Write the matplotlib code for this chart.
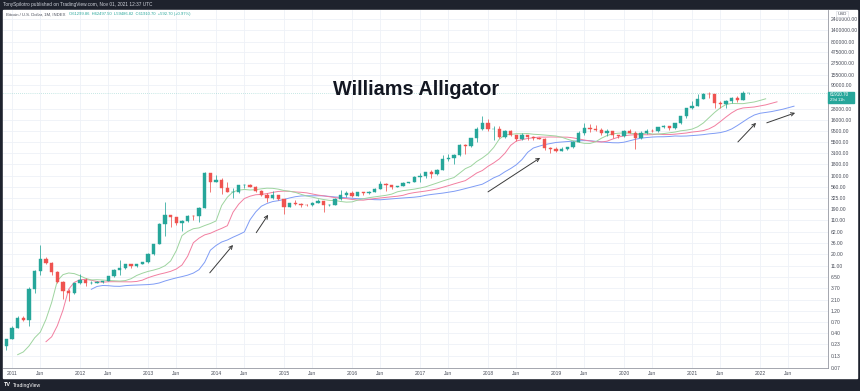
import numpy as np
import matplotlib
matplotlib.use("Agg")
import matplotlib.pyplot as plt
from matplotlib.patches import Rectangle

plt.rcParams['font.family'] = ['Liberation Sans', 'DejaVu Sans']

# monthly BTCUSD (INDEX), Jul 2010 .. Nov 2021, one row per year
opens = [
    0.05, 0.07, 0.06, 0.06, 0.19, 0.21,
    0.30, 0.52, 0.86, 0.78, 3.5, 8.7, 16.1, 13.3, 8.2, 5.1, 3.2, 3.0,
    4.7, 5.5, 4.9, 4.9, 5.0, 5.2, 6.7, 9.3, 10.1, 12.4, 11.2, 12.6,
    13.5, 20.4, 33.4, 93, 139, 129, 97, 106, 135, 133, 204, 1130,
    754, 800, 550, 445, 445, 630, 640, 585, 480, 387, 338, 378,
    320, 217, 254, 244, 236, 230, 263, 284, 230, 236, 314, 378,
    430, 368, 437, 416, 448, 531, 673, 624, 575, 609, 698, 742,
    963, 970, 1190, 1079, 1348, 2300, 2480, 2875, 4703, 4338, 6468, 10233,
    14156, 10221, 10397, 6973, 9240, 7494, 6404, 7730, 7025, 6625, 6317, 4017,
    3742, 3457, 3854, 4105, 5350, 8574, 10817, 10085, 9630, 8293, 9199, 7569,
    7193, 9350, 8544, 6424, 8629, 9455, 9138, 11323, 11680, 10784, 13804, 19700,
    28990, 33114, 45138, 58919, 57750, 37332, 35041, 41626, 47166, 43790, 61299.86,
]
highs = [
    0.10, 0.07, 0.07, 0.20, 0.50, 0.30,
    0.56, 0.95, 0.95, 4.0, 9.0, 32, 17.5, 13.9, 8.6, 5.3, 3.5, 4.8,
    7.4, 6.3, 5.4, 5.3, 5.2, 6.7, 9.5, 15.4, 12.5, 12.7, 12.6, 13.8,
    21, 34, 94, 266, 140, 130, 110, 140, 145, 215, 1240, 1165,
    1020, 880, 720, 545, 640, 680, 660, 600, 495, 420, 460, 385,
    320, 265, 300, 261, 248, 268, 317, 285, 245, 334, 502, 466,
    463, 448, 440, 469, 549, 780, 705, 628, 613, 720, 753, 980,
    1160, 1210, 1350, 1395, 2770, 2995, 2930, 4765, 5000, 6500, 11400, 19700,
    17250, 11800, 11700, 9800, 10000, 7790, 8500, 7770, 7420, 6970, 6600, 4240,
    4100, 4200, 4140, 5640, 9100, 13880, 13200, 12330, 10950, 10540, 9520, 7750,
    9580, 10500, 9190, 9470, 10080, 10390, 11450, 12470, 12050, 14100, 19900, 29300,
    41950, 58350, 61780, 64900, 59600, 41330, 42600, 50500, 52900, 67000, 62497.50,
]
lows = [
    0.05, 0.06, 0.06, 0.06, 0.19, 0.17,
    0.29, 0.52, 0.72, 0.56, 3.0, 7.2, 12.5, 7.0, 4.7, 2.2, 2.0, 2.8,
    4.5, 4.2, 4.5, 4.7, 4.9, 5.2, 6.5, 7.1, 9.8, 10.4, 10.5, 12.4,
    13.2, 19.6, 33, 50, 79, 87, 65, 101, 112, 98, 200, 450,
    735, 400, 440, 340, 425, 545, 560, 440, 360, 275, 320, 300,
    152, 212, 236, 211, 228, 220, 253, 162, 225, 236, 296, 347,
    350, 365, 393, 411, 440, 511, 470, 513, 570, 596, 685, 738,
    752, 917, 889, 1058, 1348, 2130, 1830, 2690, 2970, 4100, 5500, 10000,
    9250, 5950, 6500, 6450, 7100, 5780, 6070, 5880, 6100, 6200, 3550, 3160,
    3350, 3390, 3690, 4080, 5330, 7450, 9050, 9350, 7700, 7300, 6515, 6430,
    6850, 8450, 3850, 6150, 8100, 8900, 8970, 10950, 9870, 10420, 13200, 17600,
    28130, 32300, 44960, 47000, 30000, 28800, 29300, 37400, 39600, 43300, 59486.82,
]
closes = [
    0.07, 0.06, 0.06, 0.19, 0.21, 0.30,
    0.52, 0.86, 0.78, 3.5, 8.7, 16.1, 13.3, 8.2, 5.1, 3.2, 3.0, 4.7,
    5.5, 4.9, 4.9, 5.0, 5.2, 6.7, 9.3, 10.1, 12.4, 11.2, 12.6, 13.5,
    20.4, 33.4, 93, 139, 129, 97, 106, 135, 133, 204, 1130, 754,
    800, 550, 445, 445, 630, 640, 585, 480, 387, 338, 378, 320,
    217, 254, 244, 236, 230, 263, 284, 230, 236, 314, 378, 430,
    368, 437, 416, 448, 531, 673, 624, 575, 609, 698, 742, 963,
    970, 1190, 1079, 1348, 2300, 2480, 2875, 4703, 4338, 6468, 10233, 14156,
    10221, 10397, 6973, 9240, 7494, 6404, 7730, 7025, 6625, 6317, 4017, 3742,
    3457, 3854, 4105, 5350, 8574, 10817, 10085, 9630, 8293, 9199, 7569, 7193,
    9350, 8544, 6424, 8629, 9455, 9138, 11323, 11680, 10784, 13804, 19700, 28990,
    33114, 45138, 58919, 57750, 37332, 35041, 41626, 47166, 43790, 61318, 61910.70,
]

price_ticks = [0.07, 0.13, 0.23, 0.40, 0.70, 1.20, 2.10, 3.70, 6.50, 11.0, 20.0,
               36.0, 62.0, 110.0, 190.0, 325.0, 560.0, 1000.0, 1800.0, 3100.0,
               5500.0, 9500.0, 16000.0, 28000.0, 90000.0, 155000.0, 275000.0,
               475000.0, 800000.0, 1400000.0, 2400000.0]
years = list(range(2011, 2023))
# arrows drawn on the chart: (month index, price) tail -> head
arrows = [((40.9, 8.0), (45.0, 32.0)),
          ((49.1, 59.0), (51.2, 144.0)),
          ((90.0, 450.0), (99.2, 2450.0)),
          ((134.1, 5400.0), (137.3, 14000.0)),
          ((139.2, 14000.0), (144.2, 23000.0))]

UP, DOWN = '#26a69a', '#ef5350'
W, H = 860, 391

fig = plt.figure(figsize=(8.6, 3.91), dpi=100, facecolor='#1e222d')
# white chart panel
fig.patches.append(Rectangle((3 / W, 1 - 378 / H), 854 / W, 368 / H,
                             transform=fig.transFigure, color='white', zorder=-5))
ax = fig.add_axes([3 / W, 1 - 368 / H, 825 / W, 358 / H])
ax.set_facecolor('white')

o = np.array(opens)
h = np.array(highs)
l = np.array(lows)
c = np.array(closes)
x = np.arange(len(c))
col = np.where(c >= o, UP, DOWN)

ax.vlines(x, l, h, colors=col, linewidth=0.55, zorder=3)
ax.bar(x, np.abs(c - o), bottom=np.minimum(o, c), width=0.64,
       color=col, edgecolor=col, linewidth=0.3, zorder=4)


def smma(src, n):
    out = np.full(len(src), np.nan)
    for i in range(n - 1, len(src)):
        if i == n - 1:
            out[i] = src[:n].mean()
        else:
            out[i] = (out[i - 1] * (n - 1) + src[i]) / n
    return out


hl2 = (h + l) / 2
ax.plot(x + 8, smma(hl2, 13), color='#7f9cf5', lw=0.7, zorder=2)   # jaw
ax.plot(x + 5, smma(hl2, 8), color='#f27ea0', lw=0.7, zorder=2)    # teeth
ax.plot(x + 3, smma(hl2, 5), color='#9ed49f', lw=0.7, zorder=2)    # lips

# last price line
ax.axhline(c[-1], color=UP, lw=0.5, ls=(0, (1, 2)), alpha=0.5, zorder=1)

for (x0, y0), (x1, y1) in arrows:
    ax.annotate('', xy=(x1, y1), xytext=(x0, y0),
                arrowprops=dict(arrowstyle='->', color='#3a3a3a', lw=0.7,
                                mutation_scale=6, shrinkA=0, shrinkB=0), zorder=5)

ax.set_yscale('log')
ax.set_ylim(0.0713, 3.85e6)
ax.set_xlim(4.41, 150.0)

ax.yaxis.tick_right()
ax.set_yticks(price_ticks)
ax.set_yticklabels(['%.2f' % v for v in price_ticks])
ax.yaxis.set_minor_locator(matplotlib.ticker.NullLocator())
ax.tick_params(axis='y', length=0, pad=2, labelsize=3.6, labelcolor='#4a4e5a')

xt, xl = [], []
for i, yr in enumerate(years):
    xt += [6 + 12 * i, 11 + 12 * i]
    xl += [str(yr), 'Jun']
ax.set_xticks(xt)
ax.set_xticklabels(xl)
ax.tick_params(axis='x', length=0, pad=2.5, labelsize=3.6, labelcolor='#4a4e5a')

ax.grid(True, color='#eef1f7', lw=0.6, zorder=0)
ax.set_axisbelow(True)
for s in ['left', 'top']:
    ax.spines[s].set_visible(False)
for s in ['right', 'bottom']:
    ax.spines[s].set_color('#9598a1')
    ax.spines[s].set_linewidth(0.6)

ax.text(0.5006, 0.777, 'Williams Alligator', transform=ax.transAxes,
        ha='center', va='center', fontsize=14.3, fontweight='bold', color='#131722')

# header / legend texts
fig.text(3 / W, 1 - 4.5 / H, 'TonySpilotro published on TradingView.com, Nov 01, 2021 12:37 UTC',
         fontsize=3.4, color='#d1d4dc', va='center')
fig.text(6 / W, 1 - 14.5 / H, 'Bitcoin / U.S. Dollar, 1M, INDEX', fontsize=3.1,
         color='#4a4e5a', va='center')
fig.text(69 / W, 1 - 14.5 / H,
         'O61299.86  H62497.50  L59486.82  C61910.70  +592.70 (+0.97%)',
         fontsize=3.0, color=UP, va='center')

# price axis extras
fig.text(842 / W, 1 - 14 / H, 'USD', fontsize=3.2, color='#4a4e5a', ha='center', va='center',
         bbox=dict(boxstyle='square,pad=0.3', fc='white', ec='#d1d4dc', lw=0.4))
fig.patches.append(Rectangle((828 / W, 1 - 103 / H), 26 / W, 11 / H,
                             transform=fig.transFigure, color=UP, zorder=3))
fig.text(830 / W, 1 - 95 / H, '61910.70', fontsize=3.3, color='white', va='center', zorder=4)
fig.text(830 / W, 1 - 100.5 / H, '29d 11h', fontsize=3.0, color='white', va='center', zorder=4)

# footer logo
fig.text(4 / W, 1 - 385 / H, 'TV', fontsize=4, fontweight='bold', color='white', va='center')
fig.text(13 / W, 1 - 385 / H, 'TradingView', fontsize=3.6, color='white', va='center')

fig.savefig('out.png', dpi=100, facecolor=fig.get_facecolor())
